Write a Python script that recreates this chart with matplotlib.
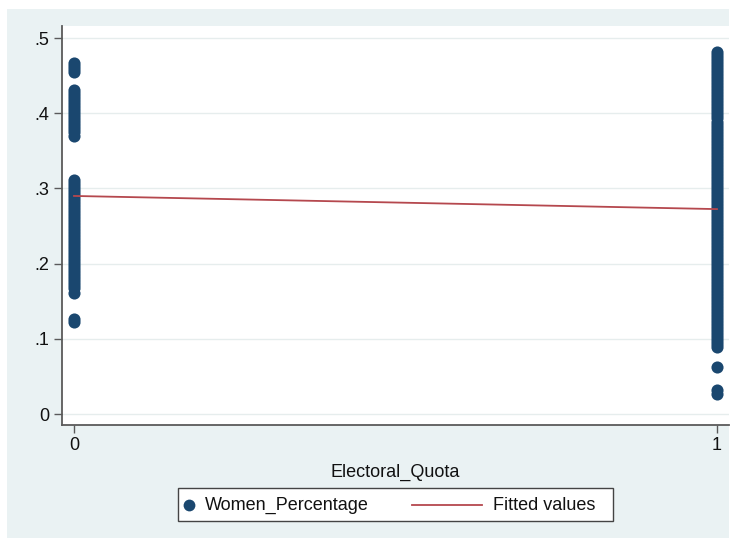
import matplotlib
matplotlib.use('Agg')
from matplotlib import pyplot as plt
from matplotlib.patches import Rectangle
from matplotlib.lines import Line2D

plt.rcParams['font.family'] = ['Liberation Sans', 'DejaVu Sans']

# women share of seats, countries without an electoral quota
no_quota = [0.467, 0.463, 0.459, 0.455,
            0.431, 0.427, 0.423, 0.419, 0.415, 0.411, 0.407, 0.403, 0.399,
            0.395, 0.391, 0.387, 0.383, 0.379, 0.375, 0.370,
            0.311, 0.307, 0.303, 0.299, 0.295, 0.291, 0.287, 0.283, 0.279,
            0.275, 0.271, 0.267, 0.263, 0.259, 0.255, 0.251, 0.247, 0.243,
            0.239, 0.235, 0.231, 0.227, 0.223, 0.219, 0.215, 0.211, 0.207,
            0.203, 0.199, 0.195, 0.191, 0.187, 0.183, 0.179, 0.175, 0.171,
            0.167, 0.161,
            0.126, 0.122]

# women share of seats, countries with an electoral quota
with_quota = [0.481, 0.477, 0.473, 0.469, 0.465, 0.461, 0.457, 0.453, 0.449,
              0.445, 0.441, 0.437, 0.433, 0.429, 0.425, 0.421, 0.417, 0.413,
              0.409, 0.405, 0.401, 0.397, 0.393, 0.389, 0.385, 0.381, 0.377,
              0.373, 0.369, 0.365, 0.361, 0.357, 0.353, 0.349, 0.345, 0.341,
              0.337, 0.333, 0.329, 0.325, 0.321, 0.317, 0.313, 0.309, 0.305,
              0.301, 0.297, 0.293, 0.289, 0.285, 0.281, 0.277, 0.273, 0.269,
              0.265, 0.261, 0.257, 0.253, 0.249, 0.245, 0.241, 0.237, 0.233,
              0.229, 0.225, 0.221, 0.217, 0.213, 0.209, 0.205, 0.201, 0.197,
              0.193, 0.189, 0.185, 0.181, 0.177, 0.173, 0.169, 0.165, 0.161,
              0.157, 0.153, 0.149, 0.145, 0.141, 0.137, 0.133, 0.129, 0.125,
              0.121, 0.117, 0.113, 0.109, 0.105, 0.101, 0.097, 0.093, 0.089,
              0.063, 0.032, 0.026]

quota_levels = [0, 1]
fitted = [0.290, 0.2725]

y_ticks = [0, 0.1, 0.2, 0.3, 0.4, 0.5]
y_tick_labels = ['0', '.1', '.2', '.3', '.4', '.5']

navy = '#1a476f'
maroon = '#b5484e'
bg = '#eaf2f3'
axis_col = '#5a5a5a'
fs = 13

W, H = 731, 540


def fx(px):
    return px / W


def fy(py):
    # pixel rows counted from the top
    return (H - py) / H


fig = plt.figure(figsize=(W / 100, H / 100), dpi=100)
fig.patch.set_facecolor('white')
fig.patches.append(Rectangle((fx(7), fy(538)), fx(722), 529 / H,
                             transform=fig.transFigure, facecolor=bg,
                             edgecolor='none', zorder=-10))

ax = fig.add_axes([fx(62), fy(425), fx(667), 399 / H])
ax.set_facecolor('white')

ax.scatter([quota_levels[0]] * len(no_quota), no_quota, s=76, color=navy,
           linewidths=0, zorder=3)
ax.scatter([quota_levels[1]] * len(with_quota), with_quota, s=76, color=navy,
           linewidths=0, zorder=3)
ax.plot(quota_levels, fitted, color=maroon, lw=1.3, zorder=4)

ax.set_xlim(-0.0187, 1.0187)
ax.set_ylim(-0.0146, 0.516)
ax.set_xticks(quota_levels)
ax.set_xticklabels(['0', '1'])
ax.set_yticks(y_ticks)
ax.set_yticklabels(y_tick_labels)
ax.yaxis.grid(True, color='#e6eded', lw=1.0, zorder=0)
ax.set_axisbelow(True)

for side in ['top', 'right']:
    ax.spines[side].set_visible(False)
for side in ['left', 'bottom']:
    ax.spines[side].set_color(axis_col)
    ax.spines[side].set_linewidth(1.3)
ax.tick_params(axis='both', colors=axis_col, labelcolor='#111111',
               labelsize=fs, length=6, width=1.0, pad=3)

ax.set_xlabel('Electoral_Quota', fontsize=fs, color='#111111', labelpad=7)

# legend box drawn by hand so each key keeps its own width
fig.patches.append(Rectangle((fx(178), fy(521)), fx(435), 33 / H,
                             transform=fig.transFigure, facecolor='white',
                             edgecolor='#444444', lw=1.0, zorder=5))
key_y = fy(505)
fig.add_artist(Line2D([fx(189)], [key_y], marker='o', markersize=8.5,
                      color=navy, markeredgewidth=0, transform=fig.transFigure,
                      zorder=6))
fig.text(fx(205), key_y, 'Women_Percentage', fontsize=fs, color='#111111',
         va='center', ha='left', zorder=6)
fig.add_artist(Line2D([fx(412), fx(482)], [key_y, key_y], color=maroon,
                      lw=1.3, transform=fig.transFigure, zorder=6))
fig.text(fx(493), key_y, 'Fitted values', fontsize=fs, color='#111111',
         va='center', ha='left', zorder=6)

fig.savefig('out.png', dpi=100)
